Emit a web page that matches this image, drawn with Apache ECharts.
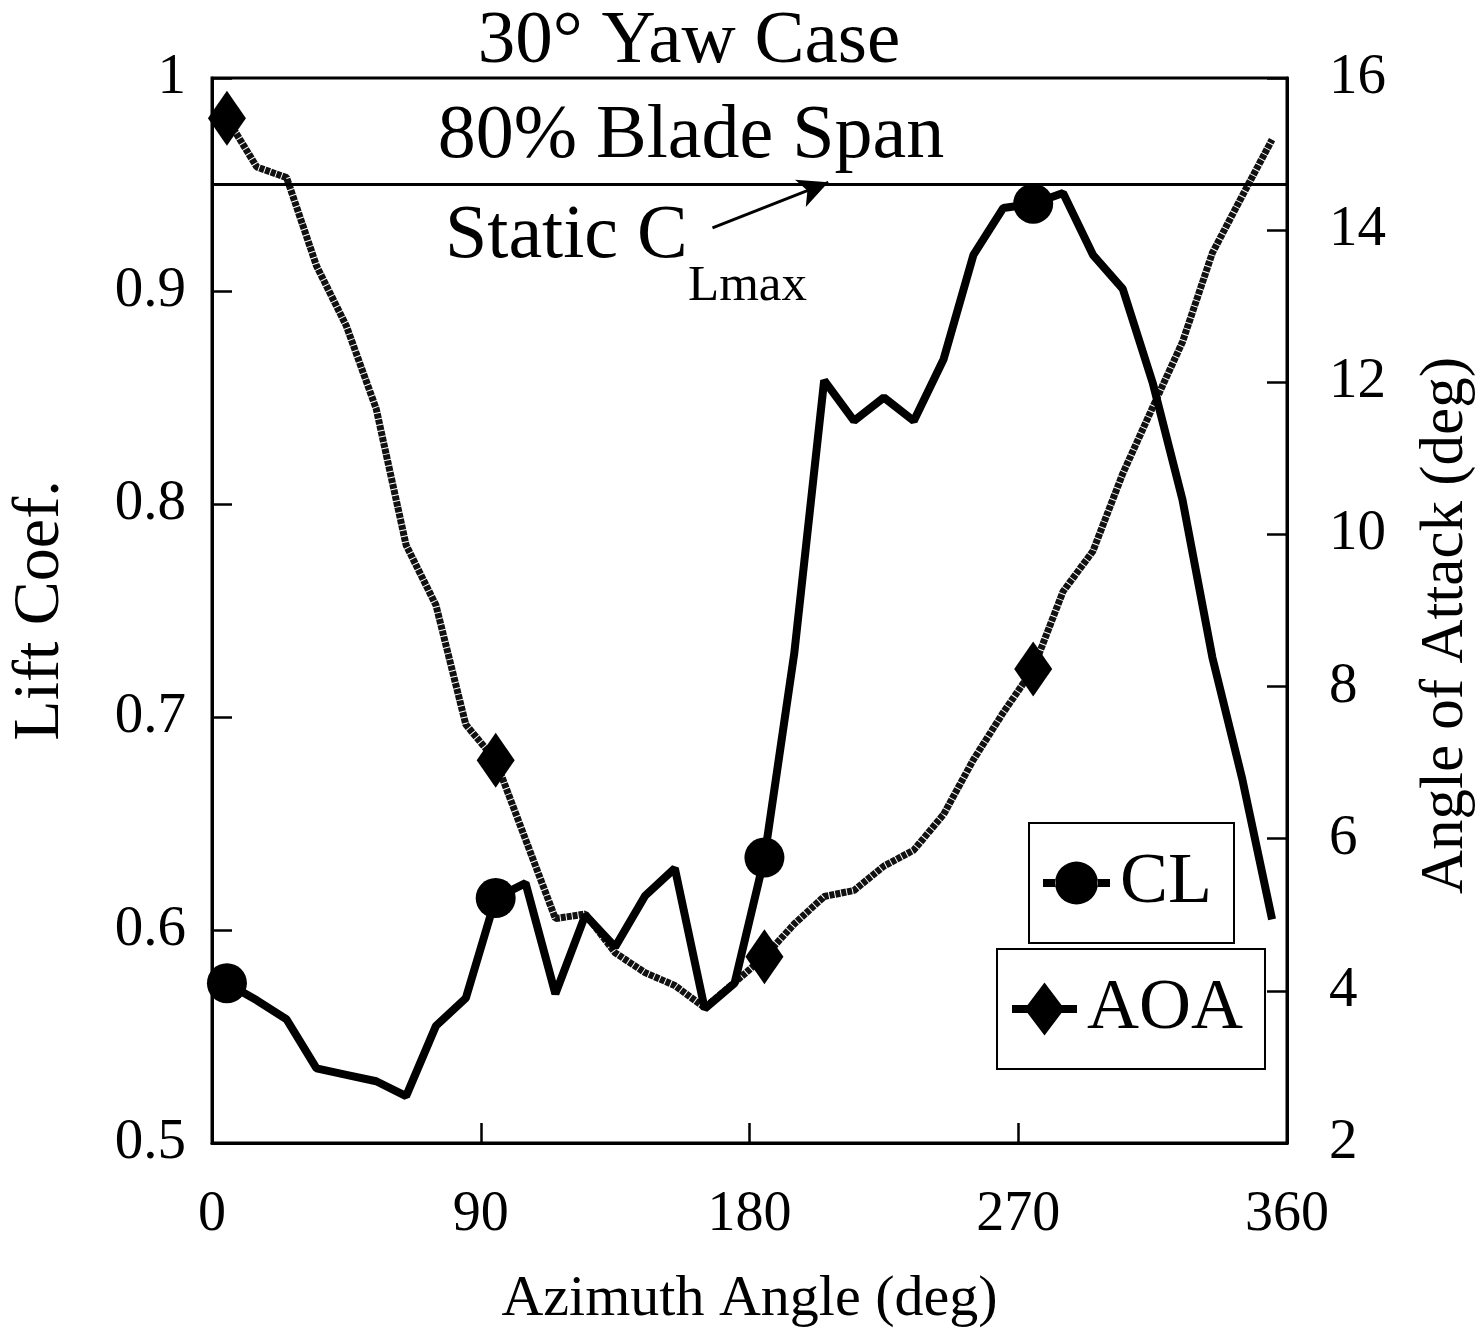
<!DOCTYPE html>
<html>
<head>
<meta charset="utf-8">
<title>30° Yaw Case - 80% Blade Span</title>
<script src="https://cdn.jsdelivr.net/npm/echarts@6/dist/echarts.min.js"></script>
<style>
    html, body { margin: 0; padding: 0; background: #fff; }
    #main { width: 1484px; height: 1334px; }
</style>
</head>
<body>
<div id="main"></div>
<script type="text/javascript">
    // azimuth positions (deg), one reading every 10 deg
    var azimuth = [5, 15, 25, 35, 45, 55, 65, 75, 85, 95, 105, 115, 125, 135, 145, 155, 165, 175,
                   185, 195, 205, 215, 225, 235, 245, 255, 265, 275, 285, 295, 305, 315, 325, 335, 345, 355];
    // lift coefficient (left axis)
    var liftCoef = [0.575, 0.567, 0.558, 0.535, 0.532, 0.529, 0.522, 0.555, 0.568, 0.615, 0.622, 0.570,
                    0.607, 0.592, 0.616, 0.629, 0.563, 0.575, 0.634, 0.730, 0.858, 0.839, 0.850, 0.839,
                    0.868, 0.917, 0.939, 0.941, 0.946, 0.917, 0.901, 0.857, 0.802, 0.728, 0.671, 0.605];
    // angle of attack, deg (right axis)
    var angleOfAttack = [15.47, 14.83, 14.69, 13.53, 12.74, 11.65, 9.86, 9.07, 7.50, 7.03, 5.99, 4.95,
                         5.01, 4.50, 4.24, 4.07, 3.78, 4.11, 4.45, 4.88, 5.24, 5.32, 5.64, 5.85,
                         6.32, 7.04, 7.66, 8.23, 9.25, 9.78, 10.80, 11.67, 12.53, 13.70, 14.45, 15.19];
    var xTicks = [0, 90, 180, 270, 360];
    var staticClMax = 0.95;

    var serif = "'Liberation Serif', 'DejaVu Serif', serif";
    // markers only on every 9th reading (5, 95, 185, 275 deg)
    function markerEvery9(size) {
        return function (v, p) { return p.dataIndex % 9 === 0 ? size : 0; };
    }
    var clIcon = 'path://M0,17.5H12.5V25.5H0Z M12,21.5A21.5,21.5 0 1,0 55,21.5A21.5,21.5 0 1,0 12,21.5Z M54.5,17.5H67V25.5H54.5Z';
    var aoaIcon = 'path://M0,22.5H15.5V30.5H0Z M12.5,26.5L32.5,0L52.5,26.5L32.5,53Z M49.5,22.5H65V30.5H49.5Z';

    var myChart = echarts.init(document.getElementById('main'));
    myChart.setOption({
        backgroundColor: '#fff',
        animation: false,
        textStyle: { fontFamily: serif, color: '#000' },
        grid: {
            left: 211, top: 78, width: 1078, height: 1065,
            show: true, borderColor: '#000', borderWidth: 3
        },
        legend: [{
            data: [{ name: 'CL', icon: clIcon }],
            left: 1029, top: 823,
            itemWidth: 67, itemHeight: 43,
            padding: [24, 22, 24, 14],
            borderColor: '#000', borderWidth: 2,
            textStyle: { fontFamily: serif, fontSize: 72, color: '#000', padding: [0, 0, 0, 5] }
        }, {
            data: [{ name: 'AOA', icon: aoaIcon }],
            left: 997, top: 949,
            itemWidth: 65, itemHeight: 53,
            padding: [24, 22, 24, 15],
            borderColor: '#000', borderWidth: 2,
            textStyle: { fontFamily: serif, fontSize: 72, color: '#000', padding: [0, 0, 0, 5] }
        }],
        xAxis: {
            type: 'value', min: 0, max: 360, interval: 90,
            name: 'Azimuth Angle (deg)', nameLocation: 'middle', nameGap: 128,
            nameTextStyle: { fontFamily: serif, fontSize: 58, color: '#000' },
            axisLine: { lineStyle: { color: '#000', width: 3 } },
            axisTick: { inside: true, length: 20, lineStyle: { color: '#000', width: 2.5 } },
            axisLabel: { margin: 44, fontFamily: serif, fontSize: 56, color: '#000' },
            splitLine: { show: false }
        },
        yAxis: [{
            type: 'value', min: 0.5, max: 1, interval: 0.1, position: 'left',
            name: 'Lift Coef.', nameLocation: 'middle', nameGap: 138, nameRotate: 90,
            nameTextStyle: { fontFamily: serif, fontSize: 66, color: '#000' },
            axisLine: { show: true, lineStyle: { color: '#000', width: 3 } },
            axisTick: { show: true, inside: true, length: 20, lineStyle: { color: '#000', width: 2.5 } },
            axisLabel: {
                margin: 26, fontFamily: serif, fontSize: 57, color: '#000',
                formatter: function (v) { return String(+v.toFixed(1)); }
            },
            splitLine: { show: false }
        }, {
            type: 'value', min: 2, max: 16, interval: 2, position: 'right',
            name: 'Angle of Attack (deg)', nameLocation: 'middle', nameGap: 128, nameRotate: 90,
            nameTextStyle: { fontFamily: serif, fontSize: 61, color: '#000', padding: [0, 30, 0, 0] },
            axisLine: { show: true, lineStyle: { color: '#000', width: 3 } },
            axisTick: { show: true, inside: true, length: 20, lineStyle: { color: '#000', width: 2.5 } },
            axisLabel: { margin: 42, fontFamily: serif, fontSize: 57, color: '#000' },
            splitLine: { show: false }
        }],
        series: [{
            name: 'AOA',
            type: 'line',
            yAxisIndex: 1,
            data: azimuth.map(function (a, i) { return [a, angleOfAttack[i]]; }),
            symbol: 'diamond',
            symbolSize: markerEvery9([38, 55]),
            itemStyle: { color: '#000' },
            lineStyle: { color: '#111', width: 7, type: [5, 1] },
            z: 2
        }, {
            name: 'CL',
            type: 'line',
            yAxisIndex: 0,
            data: azimuth.map(function (a, i) { return [a, liftCoef[i]]; }),
            symbol: 'circle',
            symbolSize: markerEvery9(40),
            itemStyle: { color: '#000' },
            lineStyle: { color: '#000', width: 8 },
            z: 3,
            markLine: {
                silent: true,
                label: { show: false },
                data: [
                    [{ xAxis: 0, yAxis: staticClMax, symbol: 'none' },
                     { xAxis: 360, yAxis: staticClMax, symbol: 'none' }],
                    [{ coord: [167.6, 0.9296], symbol: 'none' },
                     { coord: [206.4, 0.951], symbol: 'arrow', symbolSize: [22, 30] }]
                ],
                lineStyle: { color: '#000', width: 3, type: 'solid' }
            }
        }],
        graphic: [
            { type: 'text', x: 689, y: 42,
              style: { text: '30° Yaw Case', font: '75px ' + serif, fill: '#000', textAlign: 'center', textVerticalAlign: 'middle' } },
            { type: 'text', x: 691, y: 137,
              style: { text: '80% Blade Span', font: '76px ' + serif, fill: '#000', textAlign: 'center', textVerticalAlign: 'middle' } },
            { type: 'text', x: 445, y: 237,
              style: { text: 'Static C', font: '76px ' + serif, fill: '#000', textAlign: 'left', textVerticalAlign: 'middle' } },
            { type: 'text', x: 688, y: 287,
              style: { text: 'Lmax', font: '51px ' + serif, fill: '#000', textAlign: 'left', textVerticalAlign: 'middle' } }
        ]
    });
</script>
</body>
</html>
